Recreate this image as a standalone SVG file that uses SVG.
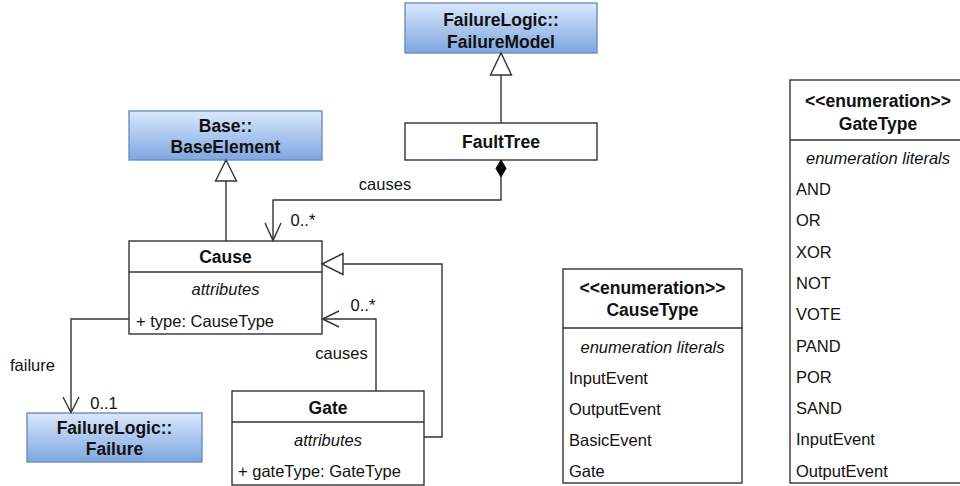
<svg xmlns="http://www.w3.org/2000/svg" width="960" height="486" viewBox="0 0 960 486">
  <defs>
    <linearGradient id="blueFill" x1="0" y1="0" x2="0" y2="1">
      <stop offset="0" stop-color="#dae8fc"/>
      <stop offset="1" stop-color="#7ea6e0"/>
    </linearGradient>
  </defs>
  <style>
    text { font-family: "Liberation Sans", Arial, Helvetica, sans-serif; fill: #111; font-size: 16.5px; }
    .b { font-weight: bold; font-size: 17.5px; text-anchor: middle; }
    .i { font-style: italic; text-anchor: middle; }
    .c { text-anchor: middle; }
    .box { fill: #ffffff; stroke: #333333; stroke-width: 1.4; }
    .ext { fill: url(#blueFill); stroke: #6c8ebf; stroke-width: 1.4; }
    .sep { stroke: #333333; stroke-width: 1.4; }
    .edge { fill: none; stroke: #333333; stroke-width: 1.4; }
    .tri { fill: #ffffff; stroke: #333333; stroke-width: 1.4; }
    .dia { fill: #000000; stroke: #000000; stroke-width: 1; }
  </style>

  <!-- external classes -->
  <g id="failureModel">
    <rect class="ext" x="405" y="3" width="192" height="50"/>
    <text class="b" x="501" y="26">FailureLogic::</text>
    <text class="b" x="501" y="48">FailureModel</text>
  </g>
  <g id="baseElement">
    <rect class="ext" x="129" y="111" width="193" height="49"/>
    <text class="b" x="225.5" y="132">Base::</text>
    <text class="b" x="225.5" y="153">BaseElement</text>
  </g>
  <g id="failure">
    <rect class="ext" x="27" y="413" width="175" height="49"/>
    <text class="b" x="114.5" y="434">FailureLogic::</text>
    <text class="b" x="114.5" y="455">Failure</text>
  </g>

  <!-- classes -->
  <g id="faultTree">
    <rect class="box" x="405" y="123" width="192" height="37"/>
    <text class="b" x="501" y="148">FaultTree</text>
  </g>
  <g id="cause">
    <rect class="box" x="129" y="241" width="193" height="93"/>
    <line class="sep" x1="129" y1="272" x2="322" y2="272"/>
    <text class="b" x="225.5" y="263">Cause</text>
    <text class="i" x="225.5" y="295">attributes</text>
    <text x="136" y="327">+ type: CauseType</text>
  </g>
  <g id="gate">
    <rect class="box" x="232" y="391" width="192" height="94"/>
    <line class="sep" x1="232" y1="422" x2="424" y2="422"/>
    <text class="b" x="328" y="414">Gate</text>
    <text class="i" x="328" y="446">attributes</text>
    <text x="238" y="477">+ gateType: GateType</text>
  </g>

  <!-- enumerations -->
  <g id="causeType">
    <rect class="box" x="563" y="269" width="179" height="214"/>
    <line class="sep" x1="563" y1="328" x2="742" y2="328"/>
    <text class="b" x="652.5" y="294">&lt;&lt;enumeration&gt;&gt;</text>
    <text class="b" x="652.5" y="316">CauseType</text>
    <text class="i" x="652.5" y="353">enumeration literals</text>
    <text x="569" y="384">InputEvent</text>
    <text x="569" y="415">OutputEvent</text>
    <text x="569" y="446">BasicEvent</text>
    <text x="569" y="477">Gate</text>
  </g>
  <g id="gateType">
    <rect class="box" x="790" y="80" width="176" height="403"/>
    <line class="sep" x1="790" y1="140" x2="966" y2="140"/>
    <text class="b" x="878" y="107">&lt;&lt;enumeration&gt;&gt;</text>
    <text class="b" x="878" y="130">GateType</text>
    <text class="i" x="878" y="164">enumeration literals</text>
    <text x="796" y="195">AND</text>
    <text x="796" y="226.3">OR</text>
    <text x="796" y="257.6">XOR</text>
    <text x="796" y="288.9">NOT</text>
    <text x="796" y="320.2">VOTE</text>
    <text x="796" y="351.5">PAND</text>
    <text x="796" y="382.8">POR</text>
    <text x="796" y="414.1">SAND</text>
    <text x="796" y="445.4">InputEvent</text>
    <text x="796" y="476.7">OutputEvent</text>
  </g>

  <!-- connectors -->
  <g id="connectors">
    <!-- FaultTree generalizes FailureModel -->
    <line class="edge" x1="501" y1="75" x2="501" y2="123"/>
    <polygon class="tri" points="501,53 490.5,75 511.5,75"/>

    <!-- Cause generalizes BaseElement -->
    <line class="edge" x1="226" y1="181" x2="226" y2="241"/>
    <polygon class="tri" points="226,160 215.5,181 236.5,181"/>

    <!-- FaultTree composition of causes -->
    <polyline class="edge" points="501,177 501,200 273,200 273,240"/>
    <polygon class="dia" points="501,160 506,168.5 501,177 496,168.5"/>
    <polyline class="edge" points="265,223 273,240.5 281,223"/>
    <text class="c" x="385" y="190">causes</text>
    <text class="c" x="303" y="226">0..*</text>

    <!-- Gate generalizes Cause -->
    <polyline class="edge" points="424,437 442,437 442,264 343,264"/>
    <polygon class="tri" points="322,264 343,253.5 343,274.5"/>

    <!-- Gate causes association -->
    <polyline class="edge" points="376,391 376,319 323,319"/>
    <polyline class="edge" points="339,311 322.5,319 339,327"/>
    <text class="c" x="341.5" y="359">causes</text>
    <text class="c" x="363" y="311">0..*</text>

    <!-- Cause failure association -->
    <polyline class="edge" points="129,319 71,319 71,412"/>
    <polyline class="edge" points="63,397 71,412.5 79,397"/>
    <text class="c" x="32.5" y="371">failure</text>
    <text class="c" x="104" y="409">0..1</text>
  </g>
</svg>
